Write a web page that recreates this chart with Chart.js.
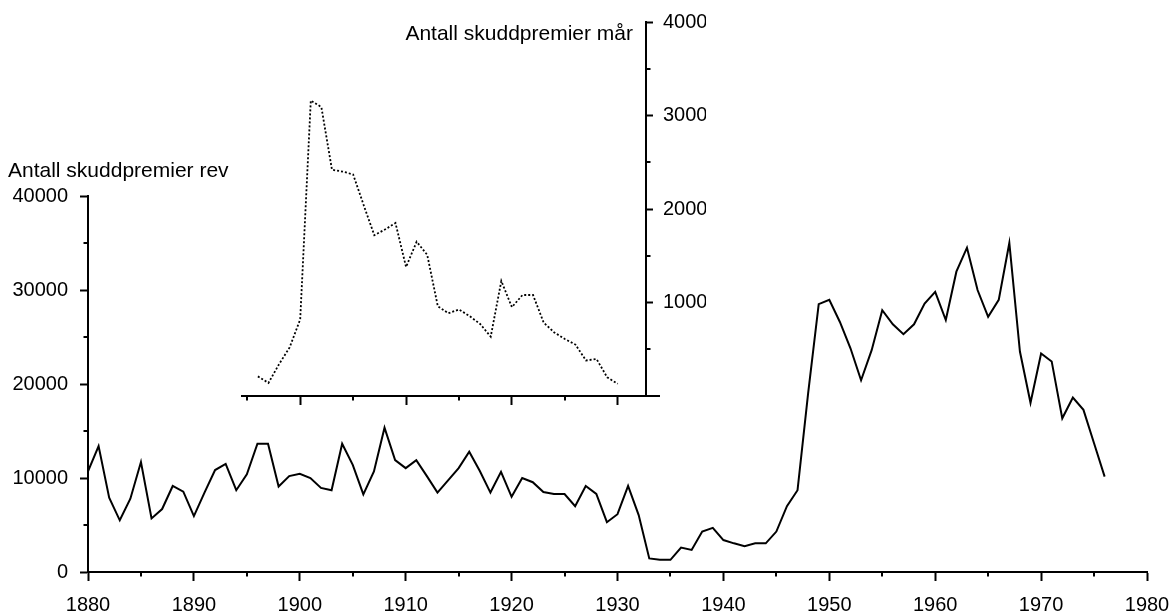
<!DOCTYPE html>
<html>
<head>
<meta charset="utf-8">
<script src="https://cdn.jsdelivr.net/npm/chart.js@4.4.1/dist/chart.umd.min.js"></script>
<style>
  html, body { margin: 0; padding: 0; background: #ffffff; }
  #wrap { position: relative; width: 1172px; height: 614px; overflow: hidden; }
  canvas { position: absolute; left: 0; top: 0; }
  #insetTitle { position: absolute; right: 539px; top: 21px; font-family: 'Liberation Sans', Arial, sans-serif; font-size: 21px; line-height: 24px; color: #000; white-space: nowrap; }
</style>
</head>
<body>
<div id="wrap">
  <canvas id="mainChart" width="1172" height="614"></canvas>
  <canvas id="insetChart" width="1172" height="614"></canvas>
  <div id="insetTitle">Antall skuddpremier mår</div>
</div>
<script>
// ---- Data: red fox bounties (rev), 1880-1976 ----
const foxYears = [
  1880,1881,1882,1883,1884,1885,1886,1887,1888,1889,
  1890,1891,1892,1893,1894,1895,1896,1897,1898,1899,
  1900,1901,1902,1903,1904,1905,1906,1907,1908,1909,
  1910,1911,1912,1913,1914,1915,1916,1917,1918,1919,
  1920,1921,1922,1923,1924,1925,1926,1927,1928,1929,
  1930,1931,1932,1933,1934,1935,1936,1937,1938,1939,
  1940,1941,1942,1943,1944,1945,1946,1947,1948,1949,
  1950,1951,1952,1953,1954,1955,1956,1957,1958,1959,
  1960,1961,1962,1963,1964,1965,1966,1967,1968,1969,
  1970,1971,1972,1973,1974,1975,1976
];
const foxBounties = [
  10700,13400,7900,5500,7800,11700,5700,6700,9150,8550,
  5950,8450,10850,11500,8700,10400,13650,13650,9100,10200,
  10450,10000,8950,8700,13650,11400,8250,10700,15350,11900,
  11050,11900,10200,8450,9750,11050,12800,10750,8450,10650,
  8000,10000,9550,8500,8300,8300,7000,9150,8300,5300,
  6150,9150,6050,1450,1300,1300,2600,2350,4300,4700,
  3400,3050,2750,3050,3050,4300,7000,8700,19000,28500,
  28950,26600,23800,20400,23600,27850,26350,25300,26350,28550,
  29800,26800,31950,34500,30000,27150,28950,35000,23450,18000,
  23250,22400,16350,18550,17250,13700,10150
];

// ---- Data: pine marten bounties (mår), 1896-1930 ----
const martenYears = [
  1896,1897,1898,1899,1900,1901,1902,1903,1904,1905,
  1906,1907,1908,1909,1910,1911,1912,1913,1914,1915,
  1916,1917,1918,1919,1920,1921,1922,1923,1924,1925,
  1926,1927,1928,1929,1930
];
const martenBounties = [
  210,140,340,520,820,3160,3090,2420,2400,2370,
  2040,1720,1780,1850,1380,1650,1510,960,885,925,
  855,770,635,1230,950,1080,1080,785,680,610,
  550,380,395,200,130
];

// ---- Tick labels ----
const mainXTicks = [1880,1890,1900,1910,1920,1930,1940,1950,1960,1970,1980];
const mainXMinor = [1885,1895,1905,1915,1925,1935,1945,1955,1965,1975];
const mainYTicks = [0,10000,20000,30000,40000];
const mainYMinor = [5000,15000,25000,35000];
const insetXTicks = [1900,1910,1920,1930];
const insetXMinor = [1895,1905,1915,1925];
const insetYTicks = [1000,2000,3000,4000];
const insetYMinor = [500,1500,2500,3500];

const mainTitle = 'Antall skuddpremier rev';

const FONT = "'Liberation Sans', Arial, Helvetica, sans-serif";

const minorTicksPlugin = {
  id: 'minorTicks',
  afterDraw(chart, args, opts) {
    const ctx = chart.ctx;
    const area = chart.chartArea;
    ctx.save();
    ctx.strokeStyle = '#000';
    ctx.lineWidth = 2;
    ctx.lineCap = 'butt';
    const xs = chart.scales.x, ys = chart.scales.y;
    (opts.x || []).forEach(v => {
      const px = Math.round(xs.getPixelForValue(v));
      ctx.beginPath();
      ctx.moveTo(px, area.bottom);
      ctx.lineTo(px, area.bottom + opts.len);
      ctx.stroke();
    });
    const right = opts.ySide === 'right';
    (opts.y || []).forEach(v => {
      const py = Math.round(ys.getPixelForValue(v));
      const x0 = right ? area.right : area.left;
      ctx.beginPath();
      ctx.moveTo(x0, py);
      ctx.lineTo(x0 + (right ? opts.len : -opts.len), py);
      ctx.stroke();
    });
    if (opts.extendX) {
      const yb = Math.round(area.bottom);
      ctx.beginPath();
      ctx.moveTo(area.right, yb);
      ctx.lineTo(area.right + opts.extendX, yb);
      ctx.stroke();
    }
    ctx.restore();
  }
};

function tickSetter(list) {
  return function(scale) { scale.ticks = list.map(v => ({ value: v })); };
}

// ---------------- Main chart ----------------
new Chart(document.getElementById('mainChart'), {
  type: 'line',
  data: {
    datasets: [{
      label: 'rev',
      data: foxYears.map((yr, i) => ({ x: yr, y: foxBounties[i] })),
      borderColor: '#000',
      borderWidth: 2,
      pointRadius: 0,
      tension: 0,
      fill: false
    }]
  },
  options: {
    responsive: false,
    devicePixelRatio: 1,
    animation: false,
    events: [],
    layout: { padding: { top: 159, left: 8, right: 25, bottom: 0 } },
    plugins: {
      legend: { display: false },
      tooltip: { enabled: false },
      title: {
        display: true,
        text: mainTitle,
        align: 'start',
        color: '#000',
        font: { family: FONT, size: 21, weight: 'normal' },
        padding: { top: 0, bottom: 11.8 }
      },
      minorTicks: { x: mainXMinor, y: mainYMinor, len: 4.5, ySide: 'left' }
    },
    scales: {
      x: {
        type: 'linear',
        min: 1880, max: 1980,
        afterBuildTicks: tickSetter(mainXTicks),
        afterFit: s => { s.height = 42; s.paddingLeft = 0; s.paddingRight = 0; },
        grid: { display: true, drawOnChartArea: false, drawTicks: true, tickLength: 9, tickWidth: 2, tickColor: '#000' },
        border: { display: true, color: '#000', width: 2 },
        ticks: { color: '#000', padding: 12, maxRotation: 0, autoSkip: false, font: { family: FONT, size: 20 }, callback: v => String(v) }
      },
      y: {
        type: 'linear',
        min: 0, max: 40000,
        afterBuildTicks: tickSetter(mainYTicks),
        afterFit: s => { s.width = 80; s.paddingTop = 0; s.paddingBottom = 0; },
        grid: { display: true, drawOnChartArea: false, drawTicks: true, tickLength: 8, tickWidth: 2, tickColor: '#000' },
        border: { display: true, color: '#000', width: 2 },
        ticks: { color: '#000', padding: 12, autoSkip: false, font: { family: FONT, size: 20 }, callback: v => String(v) }
      }
    }
  },
  plugins: [minorTicksPlugin]
});

// ---------------- Inset chart ----------------
new Chart(document.getElementById('insetChart'), {
  type: 'line',
  data: {
    datasets: [{
      label: 'mår',
      data: martenYears.map((yr, i) => ({ x: yr, y: martenBounties[i] })),
      borderColor: '#000',
      borderWidth: 1.8,
      borderDash: [2, 2],
      pointRadius: 0,
      tension: 0,
      fill: false
    }]
  },
  options: {
    responsive: false,
    devicePixelRatio: 1,
    animation: false,
    events: [],
    layout: { padding: { top: 22, left: 242, right: 466, bottom: 208 } },
    plugins: {
      legend: { display: false },
      tooltip: { enabled: false },
      title: { display: false },
      minorTicks: { x: insetXMinor, y: insetYMinor, len: 4.5, ySide: 'right', extendX: 14 }
    },
    scales: {
      x: {
        type: 'linear',
        min: 1894.5, max: 1932.67,
        afterBuildTicks: tickSetter(insetXTicks),
        afterFit: s => { s.height = 10; s.paddingLeft = 0; s.paddingRight = 0; },
        grid: { display: true, drawOnChartArea: false, drawTicks: true, tickLength: 9, tickWidth: 2, tickColor: '#000' },
        border: { display: true, color: '#000', width: 2 },
        ticks: { display: false }
      },
      y: {
        type: 'linear',
        position: 'right',
        min: 0, max: 4000,
        afterBuildTicks: tickSetter(insetYTicks),
        afterFit: s => { s.width = 60; },
        grid: { display: true, drawOnChartArea: false, drawTicks: true, tickLength: 7, tickWidth: 2, tickColor: '#000' },
        border: { display: true, color: '#000', width: 2 },
        ticks: { color: '#000', padding: 10, autoSkip: false, font: { family: FONT, size: 20 }, callback: v => String(v) }
      }
    }
  },
  plugins: [minorTicksPlugin]
});
</script>
</body>
</html>
